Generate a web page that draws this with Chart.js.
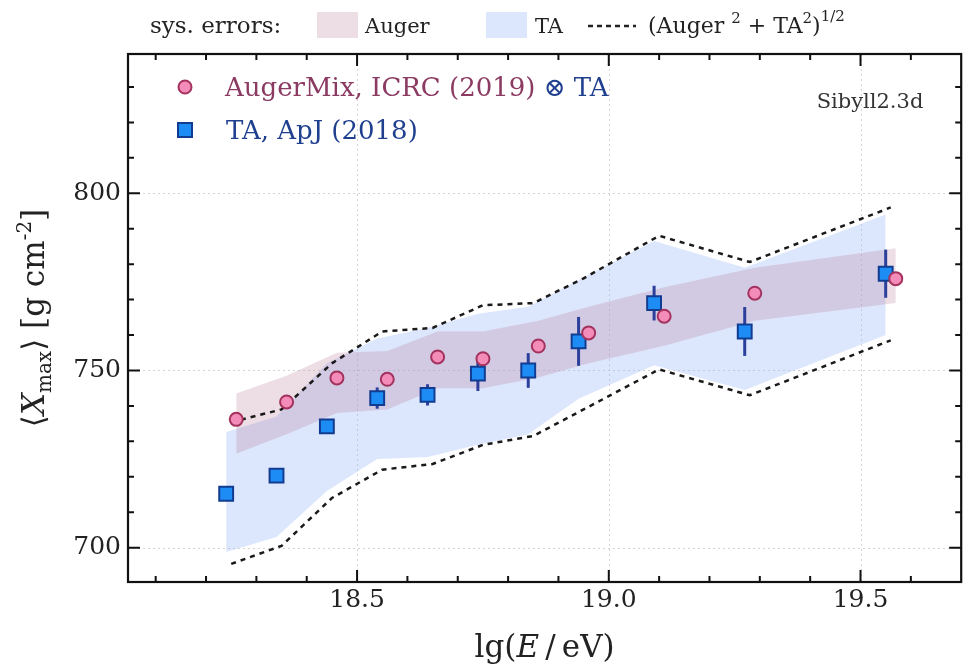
<!DOCTYPE html>
<html>
<head>
<meta charset="utf-8">
<script src="https://cdn.jsdelivr.net/npm/chart.js@4.4.1/dist/chart.umd.min.js"></script>
<style>
    html, body { margin: 0; padding: 0; background: #fff; }
    #wrap { width: 973px; height: 667px; }
</style>
</head>
<body>
<div id="wrap"><canvas id="xmaxChart" width="973" height="667"></canvas></div>
<script>
// TA, ApJ (2018) points and stat. errors
const taE = [18.24, 18.34, 18.44, 18.54, 18.64, 18.74, 18.84, 18.94, 19.09, 19.27, 19.55];
const taXmax = [715.2, 720.3, 734.2, 742.2, 743.1, 749.1, 750.0, 758.2, 769.0, 761.0, 777.3];
const taErr = [1.5, 1.5, 2.0, 3.0, 3.0, 4.9, 4.9, 6.9, 4.9, 6.9, 6.8];

// AugerMix, ICRC (2019) (x) TA
const augerE = [18.26, 18.36, 18.46, 18.56, 18.66, 18.75, 18.86, 18.96, 19.11, 19.29, 19.57];
const augerXmax = [736.2, 741.1, 747.9, 747.5, 753.8, 753.3, 756.9, 760.6, 765.3, 771.8, 775.9];

// sys. error bands
const augerSysUp = [743.5, 748.5, 755.0, 755.5, 761.0, 761.0, 764.0, 768.0, 773.5, 779.0, 784.5];
const augerSysLo = [726.5, 732.0, 738.0, 739.0, 745.0, 745.0, 748.0, 752.0, 757.0, 764.0, 769.0];
const taSysUp = [732.6, 737.0, 752.0, 759.0, 762.0, 766.0, 768.0, 775.5, 786.5, 779.0, 794.0];
const taSysLo = [698.8, 703.0, 716.0, 725.0, 725.6, 729.0, 732.0, 742.0, 751.5, 744.5, 760.0];

// (Auger^2 + TA^2)^1/2
const combE = [18.25, 18.35, 18.45, 18.55, 18.65, 18.75, 18.85, 18.95, 19.10, 19.28, 19.56];
const combUp = [735.4, 739.0, 752.0, 761.0, 762.0, 768.4, 769.0, 776.0, 788.0, 780.6, 796.0];
const combLo = [695.4, 700.5, 714.0, 722.0, 723.6, 729.0, 731.5, 739.0, 750.3, 743.0, 758.5];

// axes
const xTicks = [18.5, 19.0, 19.5];
const yTicks = [700, 750, 800];

const SERIF = "'DejaVu Serif', 'Liberation Serif', serif";
const AUGER_FILL = 'rgba(185, 120, 150, 0.25)';
const TA_FILL = 'rgba(150, 180, 245, 0.33)';
const PINK_TEXT = '#8b3a62';
const BLUE_TEXT = '#1f3f8f';

function pts(xs, ys) {
    return xs.map((x, i) => ({ x: x, y: ys[i] }));
}

// draw a run of text pieces (for sub/superscripts)
function drawRuns(ctx, x, y, runs, align) {
    let total = 0;
    runs.forEach(r => {
        ctx.font = r.font;
        total += ctx.measureText(r.t).width;
    });
    let cx = align === 'center' ? x - total / 2 : x;
    ctx.textAlign = 'left';
    ctx.textBaseline = 'alphabetic';
    runs.forEach(r => {
        ctx.font = r.font;
        ctx.fillStyle = r.color || '#222';
        ctx.fillText(r.t, cx, y + (r.dy || 0));
        cx += ctx.measureText(r.t).width;
    });
}

const gridPlugin = {
    id: 'dottedGrid',
    beforeDatasetsDraw(chart) {
        const { ctx, chartArea: a, scales: { x, y } } = chart;
        ctx.save();
        ctx.strokeStyle = '#d4d4d4';
        ctx.lineWidth = 1;
        ctx.setLineDash([2, 3]);
        xTicks.forEach(v => {
            const px = Math.round(x.getPixelForValue(v)) + 0.5;
            ctx.beginPath(); ctx.moveTo(px, a.top); ctx.lineTo(px, a.bottom); ctx.stroke();
        });
        yTicks.forEach(v => {
            const py = Math.round(y.getPixelForValue(v)) + 0.5;
            ctx.beginPath(); ctx.moveTo(a.left, py); ctx.lineTo(a.right, py); ctx.stroke();
        });
        ctx.restore();
    }
};

const errorBarPlugin = {
    id: 'taErrors',
    beforeDatasetDraw(chart, args) {
        if (args.index !== 1) return;
        const { ctx, scales: { x, y } } = chart;
        ctx.save();
        ctx.strokeStyle = '#2b3f9b';
        ctx.lineWidth = 3;
        taE.forEach((e, i) => {
            const px = x.getPixelForValue(e);
            ctx.beginPath();
            ctx.moveTo(px, y.getPixelForValue(taXmax[i] + taErr[i]));
            ctx.lineTo(px, y.getPixelForValue(taXmax[i] - taErr[i]));
            ctx.stroke();
        });
        ctx.restore();
    }
};

const framePlugin = {
    id: 'frame',
    afterDatasetsDraw(chart) {
        const { ctx, chartArea: a, scales: { x, y } } = chart;
        ctx.save();
        ctx.strokeStyle = '#111';
        ctx.lineWidth = 2;
        // minor/major ticks on all four sides, pointing inwards
        for (let k = 181; k <= 196; k++) {
            const px = x.getPixelForValue(k / 10);
            const len = (k % 5 === 0) ? 12 : 6;
            ctx.beginPath();
            ctx.moveTo(px, a.bottom); ctx.lineTo(px, a.bottom - len);
            ctx.moveTo(px, a.top); ctx.lineTo(px, a.top + len);
            ctx.stroke();
        }
        for (let v = 700; v <= 830; v += 10) {
            const py = y.getPixelForValue(v);
            const len = (v % 50 === 0) ? 12 : 6;
            ctx.beginPath();
            ctx.moveTo(a.left, py); ctx.lineTo(a.left + len, py);
            ctx.moveTo(a.right, py); ctx.lineTo(a.right - len, py);
            ctx.stroke();
        }
        ctx.lineWidth = 2.2;
        ctx.strokeRect(a.left, a.top, a.right - a.left, a.bottom - a.top);
        ctx.restore();
    }
};

const textPlugin = {
    id: 'labels',
    afterDraw(chart) {
        const { ctx, chartArea: a } = chart;
        ctx.save();

        // top legend
        drawRuns(ctx, 150, 33, [{ t: 'sys. errors:', font: '23px ' + SERIF }]);
        ctx.fillStyle = AUGER_FILL;
        ctx.fillRect(317, 12, 41, 26);
        drawRuns(ctx, 365, 33, [{ t: 'Auger', font: '21px ' + SERIF }]);
        ctx.fillStyle = TA_FILL;
        ctx.fillRect(486, 12, 41, 26);
        drawRuns(ctx, 535, 33, [{ t: 'TA', font: '21px ' + SERIF }]);
        ctx.strokeStyle = '#222';
        ctx.lineWidth = 2.5;
        ctx.setLineDash([5, 4]);
        ctx.beginPath(); ctx.moveTo(588, 26); ctx.lineTo(636, 26); ctx.stroke();
        ctx.setLineDash([]);
        const f = '22px ' + SERIF, s = '15px ' + SERIF;
        drawRuns(ctx, 648, 33, [
            { t: '(Auger ', font: f }, { t: '2', font: s, dy: -10 },
            { t: ' + TA', font: f }, { t: '2', font: s, dy: -10 },
            { t: ')', font: f }, { t: '1/2', font: s, dy: -12 }
        ]);

        // legend inside the frame
        ctx.beginPath();
        ctx.arc(185, 87, 6.5, 0, Math.PI * 2);
        ctx.fillStyle = '#f48cba';
        ctx.fill();
        ctx.lineWidth = 2;
        ctx.strokeStyle = '#a3335e';
        ctx.stroke();
        drawRuns(ctx, 225, 96, [
            { t: 'AugerMix, ICRC (2019) ', font: '26px ' + SERIF, color: PINK_TEXT },
            { t: '\u2297 TA', font: '26px ' + SERIF, color: BLUE_TEXT }
        ]);
        ctx.fillStyle = '#1e8cf5';
        ctx.fillRect(178, 123, 14, 14);
        ctx.strokeStyle = '#123c91';
        ctx.strokeRect(178, 123, 14, 14);
        drawRuns(ctx, 226, 139, [{ t: 'TA, ApJ (2018)', font: '26px ' + SERIF, color: BLUE_TEXT }]);

        drawRuns(ctx, 870, 108, [{ t: 'Sibyll2.3d', font: '21px ' + SERIF, color: '#333' }], 'center');

        // x title
        drawRuns(ctx, (a.left + a.right) / 2, 657, [
            { t: 'lg(', font: '31px ' + SERIF },
            { t: 'E', font: 'italic 31px ' + SERIF },
            { t: '\u2009/\u2009eV)', font: '31px ' + SERIF }
        ], 'center');

        // y title
        ctx.translate(44, (a.top + a.bottom) / 2);
        ctx.rotate(-Math.PI / 2);
        drawRuns(ctx, 0, 0, [
            { t: '\u27E8', font: '31px ' + SERIF },
            { t: 'X', font: 'italic 31px ' + SERIF },
            { t: 'max', font: '20px ' + SERIF, dy: 7 },
            { t: '\u27E9 [g cm', font: '31px ' + SERIF },
            { t: '-2', font: '20px ' + SERIF, dy: -13 },
            { t: ']', font: '31px ' + SERIF }
        ], 'center');
        ctx.restore();
    }
};

const ctx = document.getElementById('xmaxChart').getContext('2d');
const chart = new Chart(ctx, {
    type: 'line',
    data: {
        datasets: [
            {
                label: 'AugerMix, ICRC (2019) x TA',
                data: pts(augerE, augerXmax),
                showLine: false,
                pointStyle: 'circle',
                pointRadius: 6.5,
                pointBackgroundColor: '#f48cba',
                pointBorderColor: '#a3335e',
                pointBorderWidth: 2
            },
            {
                label: 'TA, ApJ (2018)',
                data: pts(taE, taXmax),
                showLine: false,
                pointStyle: 'rect',
                pointRadius: 9.8,
                pointBackgroundColor: '#1e8cf5',
                pointBorderColor: '#123c91',
                pointBorderWidth: 2
            },
            {
                label: 'comb up',
                data: pts(combE, combUp),
                borderColor: '#1a1a1a',
                borderWidth: 2.5,
                borderDash: [5, 5],
                pointRadius: 0,
                fill: false
            },
            {
                label: 'comb lo',
                data: pts(combE, combLo),
                borderColor: '#1a1a1a',
                borderWidth: 2.5,
                borderDash: [5, 5],
                pointRadius: 0,
                fill: false
            },
            {
                label: 'Auger sys up',
                data: pts(augerE, augerSysUp),
                borderWidth: 0,
                borderColor: 'rgba(0,0,0,0)',
                backgroundColor: AUGER_FILL,
                pointRadius: 0,
                fill: '+1'
            },
            {
                label: 'Auger sys lo',
                data: pts(augerE, augerSysLo),
                borderWidth: 0,
                borderColor: 'rgba(0,0,0,0)',
                pointRadius: 0,
                fill: false
            },
            {
                label: 'TA sys up',
                data: pts(taE, taSysUp),
                borderWidth: 0,
                borderColor: 'rgba(0,0,0,0)',
                backgroundColor: TA_FILL,
                pointRadius: 0,
                fill: '+1'
            },
            {
                label: 'TA sys lo',
                data: pts(taE, taSysLo),
                borderWidth: 0,
                borderColor: 'rgba(0,0,0,0)',
                pointRadius: 0,
                fill: false
            }
        ]
    },
    options: {
        responsive: false,
        animation: false,
        devicePixelRatio: 1,
        layout: { padding: { top: 54, right: 1, left: 0, bottom: 0 } },
        plugins: {
            legend: { display: false },
            tooltip: { enabled: false }
        },
        scales: {
            x: {
                type: 'linear',
                min: 18.045,
                max: 19.7,
                afterBuildTicks: s => { s.ticks = xTicks.map(v => ({ value: v })); },
                afterFit: s => { s.height = 85; },
                grid: { display: false, drawTicks: false },
                border: { display: false },
                ticks: {
                    callback: v => v.toFixed(1),
                    font: { family: SERIF, size: 25 },
                    color: '#222',
                    padding: 3,
                    maxRotation: 0,
                    autoSkip: false
                }
            },
            y: {
                type: 'linear',
                min: 690.3,
                max: 839.3,
                afterBuildTicks: s => { s.ticks = yTicks.map(v => ({ value: v })); },
                afterFit: s => { s.width = 128; },
                grid: { display: false, drawTicks: false },
                border: { display: false },
                ticks: {
                    font: { family: SERIF, size: 25 },
                    color: '#222',
                    padding: 7
                }
            }
        }
    },
    plugins: [gridPlugin, errorBarPlugin, framePlugin, textPlugin]
});
</script>
</body>
</html>
